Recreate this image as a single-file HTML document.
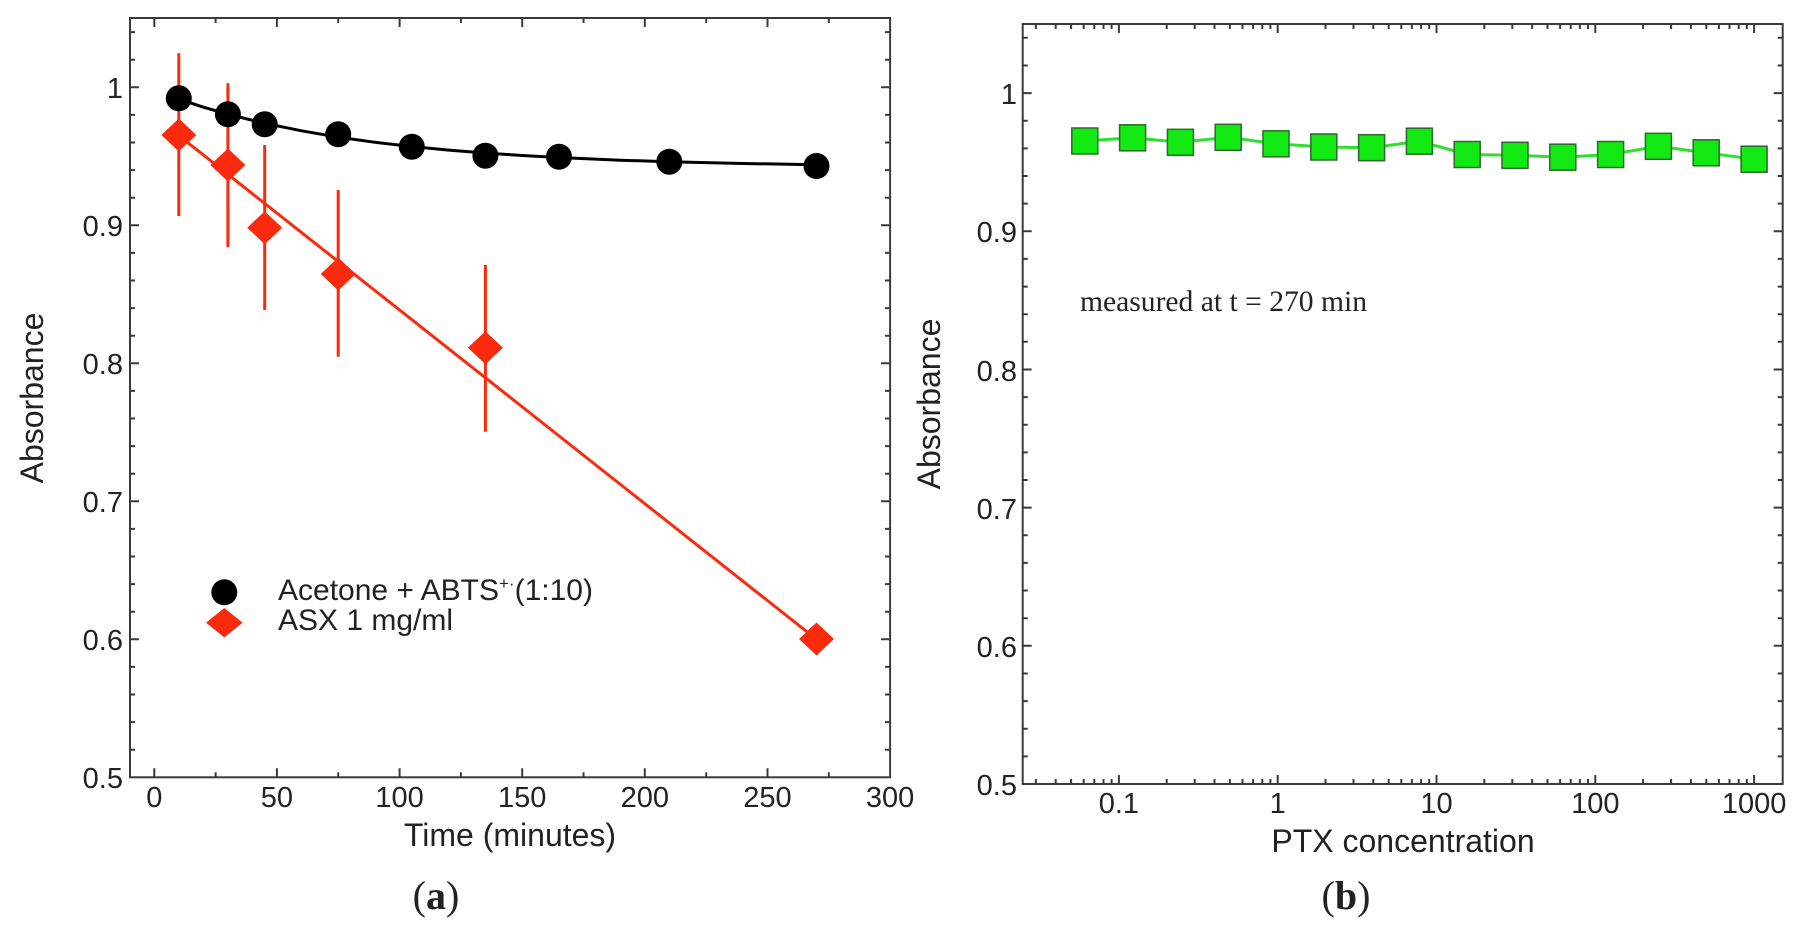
<!DOCTYPE html>
<html>
<head>
<meta charset="utf-8">
<style>
  html, body { margin: 0; padding: 0; background: #fff; }
  svg { display: block; }
  .s { font-family: "Liberation Sans", Arial, sans-serif; fill: #222; }
  .r { font-family: "Liberation Serif", "Times New Roman", serif; fill: #222; }
</style>
</head>
<body>
<svg width="1800" height="929" viewBox="0 0 1800 929" xmlns="http://www.w3.org/2000/svg">
<rect width="1800" height="929" fill="#ffffff"/>

<!-- ================= LEFT PANEL (a) ================= -->
<g>
  <!-- data: black curve -->
  <polyline fill="none" stroke="#000" stroke-width="3"
    points="178.8,99.1 203.4,107.2 227.9,114.2 264.7,123.3 301.5,130.8 338.2,137.1 375.0,142.3 411.8,146.5 448.6,150.1 485.4,153.0 522.2,155.5 559.0,157.5 620.3,160.2 669.3,161.8 742.9,163.5 816.5,164.7"/>
  <!-- red fit line -->
  <line x1="178.8" y1="135.6" x2="816.5" y2="639.3" stroke="#fb2a0c" stroke-width="3"/>
  <!-- error bars -->
  <g stroke="#fb2a0c" stroke-width="3">
    <line x1="178.8" y1="53.3" x2="178.8" y2="216"/>
    <line x1="227.9" y1="83.3" x2="227.9" y2="247.3"/>
    <line x1="264.7" y1="145" x2="264.7" y2="310"/>
    <line x1="338.2" y1="190" x2="338.2" y2="356.7"/>
    <line x1="485.4" y1="265" x2="485.4" y2="431.7"/>
  </g>
  <!-- black circles -->
  <g fill="#000">
    <circle cx="178.8" cy="98.3" r="13"/>
    <circle cx="227.9" cy="114.3" r="13"/>
    <circle cx="264.7" cy="124.3" r="13"/>
    <circle cx="338.2" cy="134.3" r="13"/>
    <circle cx="411.8" cy="146.7" r="13"/>
    <circle cx="485.4" cy="155.7" r="13"/>
    <circle cx="559.0" cy="156.7" r="13"/>
    <circle cx="669.3" cy="161.7" r="13"/>
    <circle cx="816.5" cy="166" r="13"/>
  </g>
  <!-- red diamonds -->
  <g fill="#fb2a0c">
    <polygon points="178.8,118.5 196.3,135 178.8,151.5 161.3,135"/>
    <polygon points="227.9,148.5 245.4,165 227.9,181.5 210.4,165"/>
    <polygon points="264.7,211.2 282.2,227.7 264.7,244.2 247.2,227.7"/>
    <polygon points="338.2,257.5 355.7,274 338.2,290.5 320.7,274"/>
    <polygon points="485.4,331.2 502.9,347.7 485.4,364.2 467.9,347.7"/>
    <polygon points="816.5,622.5 834,639 816.5,655.5 799,639"/>
  </g>

  <!-- axes box -->
  <rect x="130" y="18" width="760.1" height="759.3" fill="none" stroke="#3a3a3a" stroke-width="2"/>
  <!-- ticks -->
  <path fill="none" stroke="#3a3a3a" stroke-width="2" d="
    M154.3,777.3v-9 M276.9,777.3v-9 M399.6,777.3v-9 M522.2,777.3v-9 M644.8,777.3v-9 M767.5,777.3v-9
    M215.6,777.3v-5 M338.2,777.3v-5 M460.9,777.3v-5 M583.5,777.3v-5 M706.2,777.3v-5 M828.8,777.3v-5
    M154.3,18v9 M276.9,18v9 M399.6,18v9 M522.2,18v9 M644.8,18v9 M767.5,18v9
    M215.6,18v5 M338.2,18v5 M460.9,18v5 M583.5,18v5 M706.2,18v5 M828.8,18v5
    M130,639.3h9 M130,501.3h9 M130,363.3h9 M130,225.3h9 M130,87.3h9
    M890,639.3h-9 M890,501.3h-9 M890,363.3h-9 M890,225.3h-9 M890,87.3h-9
    M130,749.7h5 M130,722.1h5 M130,694.5h5 M130,666.9h5 M130,611.7h5 M130,584.1h5 M130,556.5h5 M130,528.9h5
    M130,473.7h5 M130,446.1h5 M130,418.5h5 M130,390.9h5 M130,335.7h5 M130,308.1h5 M130,280.5h5 M130,252.9h5
    M130,197.7h5 M130,170.1h5 M130,142.5h5 M130,114.9h5 M130,59.7h5 M130,32.1h5
    M890,749.7h-5 M890,722.1h-5 M890,694.5h-5 M890,666.9h-5 M890,611.7h-5 M890,584.1h-5 M890,556.5h-5 M890,528.9h-5
    M890,473.7h-5 M890,446.1h-5 M890,418.5h-5 M890,390.9h-5 M890,335.7h-5 M890,308.1h-5 M890,280.5h-5 M890,252.9h-5
    M890,197.7h-5 M890,170.1h-5 M890,142.5h-5 M890,114.9h-5 M890,59.7h-5 M890,32.1h-5"/>

  <!-- y tick labels -->
  <g class="s" font-size="29" text-anchor="end">
    <text x="123" y="788">0.5</text>
    <text x="123" y="650">0.6</text>
    <text x="123" y="512">0.7</text>
    <text x="123" y="374">0.8</text>
    <text x="123" y="236">0.9</text>
    <text x="123" y="98">1</text>
  </g>
  <!-- x tick labels -->
  <g class="s" font-size="29" text-anchor="middle">
    <text x="154.3" y="807">0</text>
    <text x="276.9" y="807">50</text>
    <text x="399.6" y="807">100</text>
    <text x="522.2" y="807">150</text>
    <text x="644.8" y="807">200</text>
    <text x="767.5" y="807">250</text>
    <text x="890.1" y="807">300</text>
  </g>
  <!-- axis titles -->
  <text class="s" font-size="32" x="510" y="846" text-anchor="middle">Time (minutes)</text>
  <text class="s" font-size="32" text-anchor="middle" transform="translate(43,398) rotate(-90)">Absorbance</text>

  <!-- legend -->
  <circle cx="224.3" cy="592.3" r="13" fill="#000"/>
  <polygon points="224.3,608 242.6,622.7 224.3,637.4 206,622.7" fill="#fb2a0c"/>
  <text class="s" font-size="30" x="278" y="600">Acetone + ABTS<tspan font-size="17" dy="-11">+·</tspan><tspan dy="11">(1:10)</tspan></text>
  <text class="s" font-size="30" x="278" y="630">ASX 1 mg/ml</text>

  <!-- panel label -->
  <text class="r" font-size="40" x="436" y="909" text-anchor="middle">(<tspan font-weight="bold">a</tspan>)</text>
</g>

<!-- ================= RIGHT PANEL (b) ================= -->
<g>
  <!-- green line -->
  <polyline fill="none" stroke="#2ee02e" stroke-width="3"
    points="1084.8,141 1132.6,137.8 1180.4,142.3 1228.2,137.3 1276.0,143.8 1323.8,147 1371.6,147.7 1419.4,141.2 1467.2,154.5 1515.0,155.3 1562.8,157.2 1610.6,154.5 1658.4,146.3 1706.2,152.8 1754.1,159.2"/>
  <!-- squares -->
  <g fill="#12e812" stroke="#2c6a2c" stroke-width="1.5">
    <rect x="1071.8" y="128" width="26" height="26"/>
    <rect x="1119.6" y="124.8" width="26" height="26"/>
    <rect x="1167.4" y="129.3" width="26" height="26"/>
    <rect x="1215.2" y="124.3" width="26" height="26"/>
    <rect x="1263.0" y="130.8" width="26" height="26"/>
    <rect x="1310.8" y="134" width="26" height="26"/>
    <rect x="1358.6" y="134.7" width="26" height="26"/>
    <rect x="1406.4" y="128.2" width="26" height="26"/>
    <rect x="1454.2" y="141.5" width="26" height="26"/>
    <rect x="1502.0" y="142.3" width="26" height="26"/>
    <rect x="1549.8" y="144.2" width="26" height="26"/>
    <rect x="1597.6" y="141.5" width="26" height="26"/>
    <rect x="1645.4" y="133.3" width="26" height="26"/>
    <rect x="1693.2" y="139.8" width="26" height="26"/>
    <rect x="1741.1" y="146.2" width="26" height="26"/>
  </g>

  <!-- axes box -->
  <rect x="1022.7" y="24" width="760" height="760" fill="none" stroke="#3a3a3a" stroke-width="2"/>
  <path fill="none" stroke="#3a3a3a" stroke-width="2" d="
    M1118.9,784v-9 M1277.7,784v-9 M1436.5,784v-9 M1595.3,784v-9 M1754.1,784v-9
    M1118.9,24v9 M1277.7,24v9 M1436.5,24v9 M1595.3,24v9 M1754.1,24v9
    M1035.9,784v-5 M1055.7,784v-5 M1071.1,784v-5 M1083.7,784v-5 M1094.3,784v-5 M1103.5,784v-5 M1111.6,784v-5
    M1166.7,784v-5 M1194.7,784v-5 M1214.5,784v-5 M1229.9,784v-5 M1242.5,784v-5 M1253.1,784v-5 M1262.3,784v-5 M1270.4,784v-5
    M1325.5,784v-5 M1353.5,784v-5 M1373.3,784v-5 M1388.7,784v-5 M1401.3,784v-5 M1411.9,784v-5 M1421.1,784v-5 M1429.2,784v-5
    M1484.3,784v-5 M1512.3,784v-5 M1532.1,784v-5 M1547.5,784v-5 M1560.1,784v-5 M1570.7,784v-5 M1579.9,784v-5 M1588.0,784v-5
    M1643.1,784v-5 M1671.1,784v-5 M1690.9,784v-5 M1706.3,784v-5 M1718.9,784v-5 M1729.5,784v-5 M1738.7,784v-5 M1746.8,784v-5
    M1035.9,24v5 M1055.7,24v5 M1071.1,24v5 M1083.7,24v5 M1094.3,24v5 M1103.5,24v5 M1111.6,24v5
    M1166.7,24v5 M1194.7,24v5 M1214.5,24v5 M1229.9,24v5 M1242.5,24v5 M1253.1,24v5 M1262.3,24v5 M1270.4,24v5
    M1325.5,24v5 M1353.5,24v5 M1373.3,24v5 M1388.7,24v5 M1401.3,24v5 M1411.9,24v5 M1421.1,24v5 M1429.2,24v5
    M1484.3,24v5 M1512.3,24v5 M1532.1,24v5 M1547.5,24v5 M1560.1,24v5 M1570.7,24v5 M1579.9,24v5 M1588.0,24v5
    M1643.1,24v5 M1671.1,24v5 M1690.9,24v5 M1706.3,24v5 M1718.9,24v5 M1729.5,24v5 M1738.7,24v5 M1746.8,24v5
    M1022.7,645.8h9 M1022.7,507.6h9 M1022.7,369.5h9 M1022.7,231.3h9 M1022.7,93.1h9
    M1782.7,645.8h-9 M1782.7,507.6h-9 M1782.7,369.5h-9 M1782.7,231.3h-9 M1782.7,93.1h-9
    M1022.7,756.4h5 M1022.7,728.7h5 M1022.7,701.1h5 M1022.7,673.5h5 M1022.7,618.2h5 M1022.7,590.5h5 M1022.7,562.9h5 M1022.7,535.3h5
    M1022.7,480h5 M1022.7,452.4h5 M1022.7,424.7h5 M1022.7,397.1h5 M1022.7,341.8h5 M1022.7,314.2h5 M1022.7,286.6h5 M1022.7,258.9h5
    M1022.7,203.6h5 M1022.7,176h5 M1022.7,148.4h5 M1022.7,120.7h5 M1022.7,65.5h5 M1022.7,37.8h5
    M1782.7,756.4h-5 M1782.7,728.7h-5 M1782.7,701.1h-5 M1782.7,673.5h-5 M1782.7,618.2h-5 M1782.7,590.5h-5 M1782.7,562.9h-5 M1782.7,535.3h-5
    M1782.7,480h-5 M1782.7,452.4h-5 M1782.7,424.7h-5 M1782.7,397.1h-5 M1782.7,341.8h-5 M1782.7,314.2h-5 M1782.7,286.6h-5 M1782.7,258.9h-5
    M1782.7,203.6h-5 M1782.7,176h-5 M1782.7,148.4h-5 M1782.7,120.7h-5 M1782.7,65.5h-5 M1782.7,37.8h-5"/>

  <!-- y tick labels -->
  <g class="s" font-size="29" text-anchor="end">
    <text x="1017" y="795">0.5</text>
    <text x="1017" y="657">0.6</text>
    <text x="1017" y="519">0.7</text>
    <text x="1017" y="381">0.8</text>
    <text x="1017" y="242">0.9</text>
    <text x="1017" y="104">1</text>
  </g>
  <!-- x tick labels -->
  <g class="s" font-size="29" text-anchor="middle">
    <text x="1118.9" y="813">0.1</text>
    <text x="1277.7" y="813">1</text>
    <text x="1436.5" y="813">10</text>
    <text x="1595.3" y="813">100</text>
    <text x="1754.1" y="813">1000</text>
  </g>
  <!-- annotation -->
  <text class="r" font-size="30" x="1080" y="311" textLength="287" lengthAdjust="spacingAndGlyphs">measured at t = 270 min</text>
  <!-- axis titles -->
  <text class="s" font-size="32" x="1403" y="852" text-anchor="middle">PTX concentration</text>
  <text class="s" font-size="32" text-anchor="middle" transform="translate(940,404) rotate(-90)">Absorbance</text>
  <!-- panel label -->
  <text class="r" font-size="40" x="1346" y="909" text-anchor="middle">(<tspan font-weight="bold">b</tspan>)</text>
</g>
</svg>
</body>
</html>
